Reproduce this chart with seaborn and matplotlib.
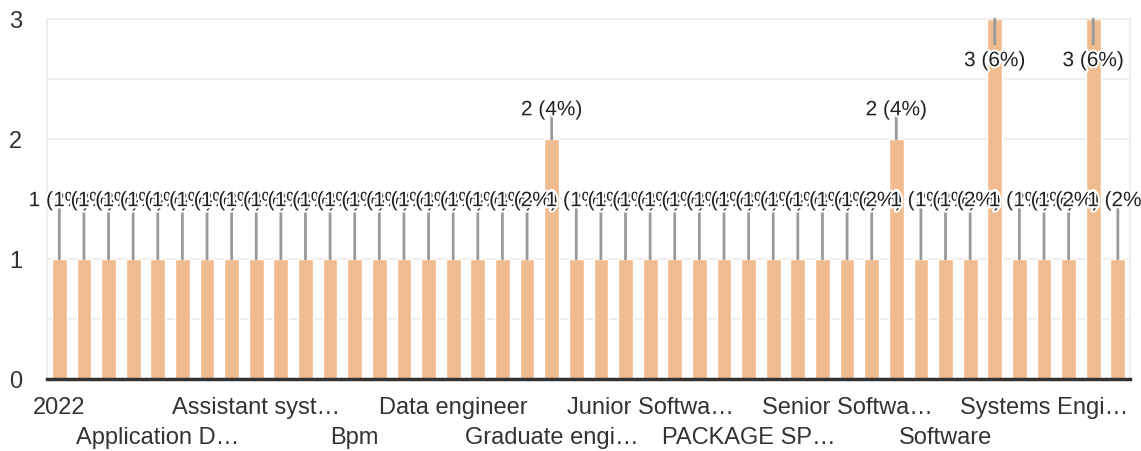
import pandas as pd
import matplotlib
matplotlib.use('Agg')
import matplotlib.pyplot as plt
import matplotlib.patheffects as pe
import seaborn as sns

# данные: должности и количество
titles = [
    '2022', 'AI Engineer', 'Analyst', 'Analyst Programmer',
    'Application Developer', 'Application Engineer', 'Applications Analyst', 'Architect',
    'Assistant systems engineer', 'Associate Consultant', 'Associate Developer', 'Backend Developer',
    'Bpm', 'Business Analyst', 'Cloud Engineer', 'Consultant',
    'Data engineer', 'Data scientist', 'Developer', 'DevOps Engineer',
    'Graduate engineer trainee', 'Graduate software engineer', 'IT Analyst', 'IT Consultant',
    'Junior Software Engineer', 'Lead Engineer', 'Member Technical Staff', 'Network Engineer',
    'PACKAGE SPECIALIST', 'Product Engineer', 'Programmer Analyst', 'Project Engineer',
    'Senior Software Engineer', 'Senior Test Engineer', 'Site Reliability Engineer', 'SME',
    'Software', 'Software Developer', 'Software Engineer', 'Support Engineer',
    'Systems Engineer', 'Systems Engineer Trainee', 'Technology Analyst', 'Trainee',
]
counts = [1] * 44
counts[20] = 2
counts[34] = 2
counts[38] = 3
counts[42] = 3

# подписи оси X (видна каждая четвёртая)
shown_labels = ['2022', 'Application D…', 'Assistant syst…', 'Bpm', 'Data engineer',
                'Graduate engi…', 'Junior Softwa…', 'PACKAGE SP…', 'Senior Softwa…',
                'Software', 'Systems Engi…']

sns.set_style('white')
plt.rcParams['font.family'] = ['Liberation Sans', 'DejaVu Sans']

df = pd.DataFrame({'title': titles, 'count': counts})
total = sum(counts)

fig, ax = plt.subplots(figsize=(11.41, 4.52), dpi=100)
fig.subplots_adjust(left=0.0412, right=0.9905, top=0.9558, bottom=0.1593)

sns.barplot(data=df, x='title', y='count', order=titles, color='#F0BC8F',
            saturation=1, width=0.6, ax=ax, zorder=2)

ax.set_ylim(0, 3)
ax.set_xlim(-0.5, len(titles) - 0.5)
ax.set_yticks([0, 1, 2, 3])
ax.set_yticks([0.5, 1.5, 2.5], minor=True)
ax.grid(which='both', axis='y', color='#eeeeee', lw=1.5, zorder=0)
ax.set_axisbelow(True)

# подписи над столбцами с линиями-выносками
offsets = {1: (40, 42), 2: (18, 21), 3: (-18, -30)}  # (линия, текст) в пунктах
for i, v in enumerate(counts):
    line_off, text_off = offsets[v]
    ax.annotate('', xy=(i, v), xytext=(0, line_off), textcoords='offset points',
                arrowprops=dict(arrowstyle='-', color='#999999', lw=2,
                                shrinkA=0, shrinkB=0), zorder=3)
for i, v in enumerate(counts):
    line_off, text_off = offsets[v]
    pct = round(v / total * 100)
    ax.annotate(f'{v} ({pct}%)', xy=(i, v), xytext=(0, text_off),
                textcoords='offset points', ha='center', va='center',
                fontsize=15, color='#222222', zorder=4, annotation_clip=False,
                path_effects=[pe.withStroke(linewidth=3, foreground='white')])

# подписи оси X в два ряда
labels = [''] * len(titles)
for k, lab in enumerate(shown_labels):
    labels[k * 4] = lab if k % 2 == 0 else '\n' + lab
ax.set_xticks(range(len(titles)))
ax.set_xticklabels(labels, fontsize=17, color='#333333', linespacing=1.5)
ax.set_xlabel('')
ax.set_ylabel('')
ax.tick_params(axis='x', length=0, pad=12)
ax.tick_params(axis='y', length=0, pad=18, labelsize=17, labelcolor='#333333')

for side in ['left', 'right', 'top']:
    ax.spines[side].set_color('#eeeeee')
    ax.spines[side].set_linewidth(1.5)
ax.spines['bottom'].set_color('#333333')
ax.spines['bottom'].set_linewidth(2.5)
ax.spines['bottom'].set_zorder(5)

plt.savefig('out.png', dpi=100)
